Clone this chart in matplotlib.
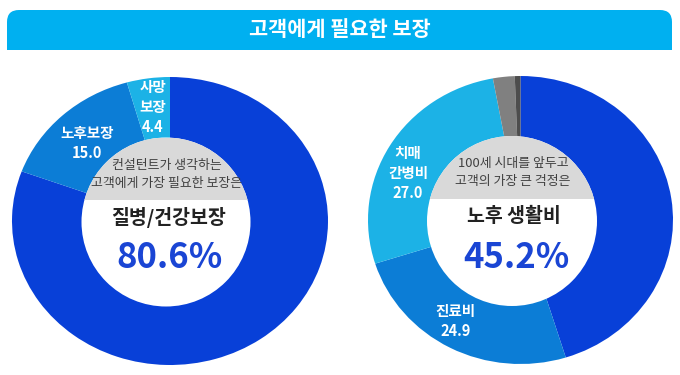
import matplotlib.pyplot as plt
from matplotlib.patches import FancyBboxPatch, Rectangle, Circle

plt.rcParams['font.family'] = ['Noto Sans CJK KR', 'DejaVu Sans']

title = "고객에게 필요한 보장"

# left donut: what consultants think customers need
left_values = [80.6, 15.0, 4.4]
left_labels = ["", "노후보장\n15.0", "사망\n보장\n4.4"]
left_colors = ["#0840D8", "#0C7DD6", "#1CB2E6"]
left_band = "컨설턴트가 생각하는\n고객에게 가장 필요한 보장은"
left_head = "질병/건강보장"
left_pct = "80.6%"

# right donut: biggest worry of customers
right_values = [45.2, 24.9, 27.0, 2.3, 0.6]
right_labels = ["", "진료비\n24.9", "치매\n간병비\n27.0", "", ""]
right_colors = ["#0840D8", "#0C7DD6", "#1CB2E6", "#808080", "#4d4d4d"]
right_band = "100세 시대를 앞두고\n고객의 가장 큰 걱정은"
right_head = "노후 생활비"
right_pct = "45.2%"

W, H = 680, 375
fig = plt.figure(figsize=(6.8, 3.75), dpi=100)

bg = fig.add_axes([0, 0, 1, 1])
bg.set_xlim(0, W)
bg.set_ylim(H, 0)
bg.axis('off')

# title banner, rounded top only
bg.add_patch(FancyBboxPatch((7, 10), 665, 40, boxstyle="round,pad=0,rounding_size=12",
                            fc="#00B0F0", ec="none"))
bg.add_patch(Rectangle((7, 30), 665, 20, fc="#00B0F0", ec="none"))
bg.text(340, 29, title, color="white", fontsize=15, fontweight="bold",
        ha="center", va="center")


def donut(box, values, labels, colors, nudge):
    ax = fig.add_axes([box[0] / W, 1 - (box[1] + box[3]) / H, box[2] / W, box[3] / H])
    wedges, texts = ax.pie(values, labels=labels, colors=colors, startangle=90,
                           counterclock=False, radius=1, labeldistance=0.79,
                           wedgeprops=dict(linewidth=0),
                           textprops=dict(color="white", fontsize=10.5,
                                          fontweight="bold", linespacing=1.3))
    for t, (dx, dy) in zip(texts, nudge):
        x, y = t.get_position()
        t.set_position((x + dx, y + dy))
        t.set_ha("center")
        t.set_va("center")
    ax.set_aspect("auto")
    ax.set_xlim(-1, 1)
    ax.set_ylim(-1, 1)
    return ax


donut((12, 77, 316, 288), left_values, left_labels, left_colors,
      [(0, 0), (0.01, -0.04), (0, 0.01)])
donut((368, 76, 305, 288), right_values, right_labels, right_colors,
      [(0, 0), (-0.06, 0.0), (-0.06, -0.08), (0, 0), (0, 0)])

ov = fig.add_axes([0, 0, 1, 1])
ov.set_xlim(0, W)
ov.set_ylim(H, 0)
ov.axis('off')
ov.patch.set_alpha(0)


def centre(cx, cy, r, band, head, pct):
    hole = Circle((cx, cy), r, fc="white", ec="none")
    ov.add_patch(hole)
    grey = Rectangle((cx - r, cy - r), 2 * r, 62 + (r - 84.5), fc="#D9D9D9", ec="none")
    ov.add_patch(grey)
    grey.set_clip_path(hole)
    ov.text(cx + 1, cy - 48, band, color="#404040", fontsize=9.3, ha="center",
            va="center", linespacing=1.5)
    ov.text(cx + 2, cy - 5, head, color="#222222", fontsize=14, fontweight="bold",
            ha="center", va="center")
    ov.text(cx + 4, cy + 36, pct, color="#1A45D4", fontsize=25, fontweight="bold",
            ha="center", va="center")


centre(166, 222, 84.5, left_band, left_head, left_pct)
centre(512, 221, 85, right_band, right_head, right_pct)

fig.savefig("out.png", dpi=100, facecolor="white")
